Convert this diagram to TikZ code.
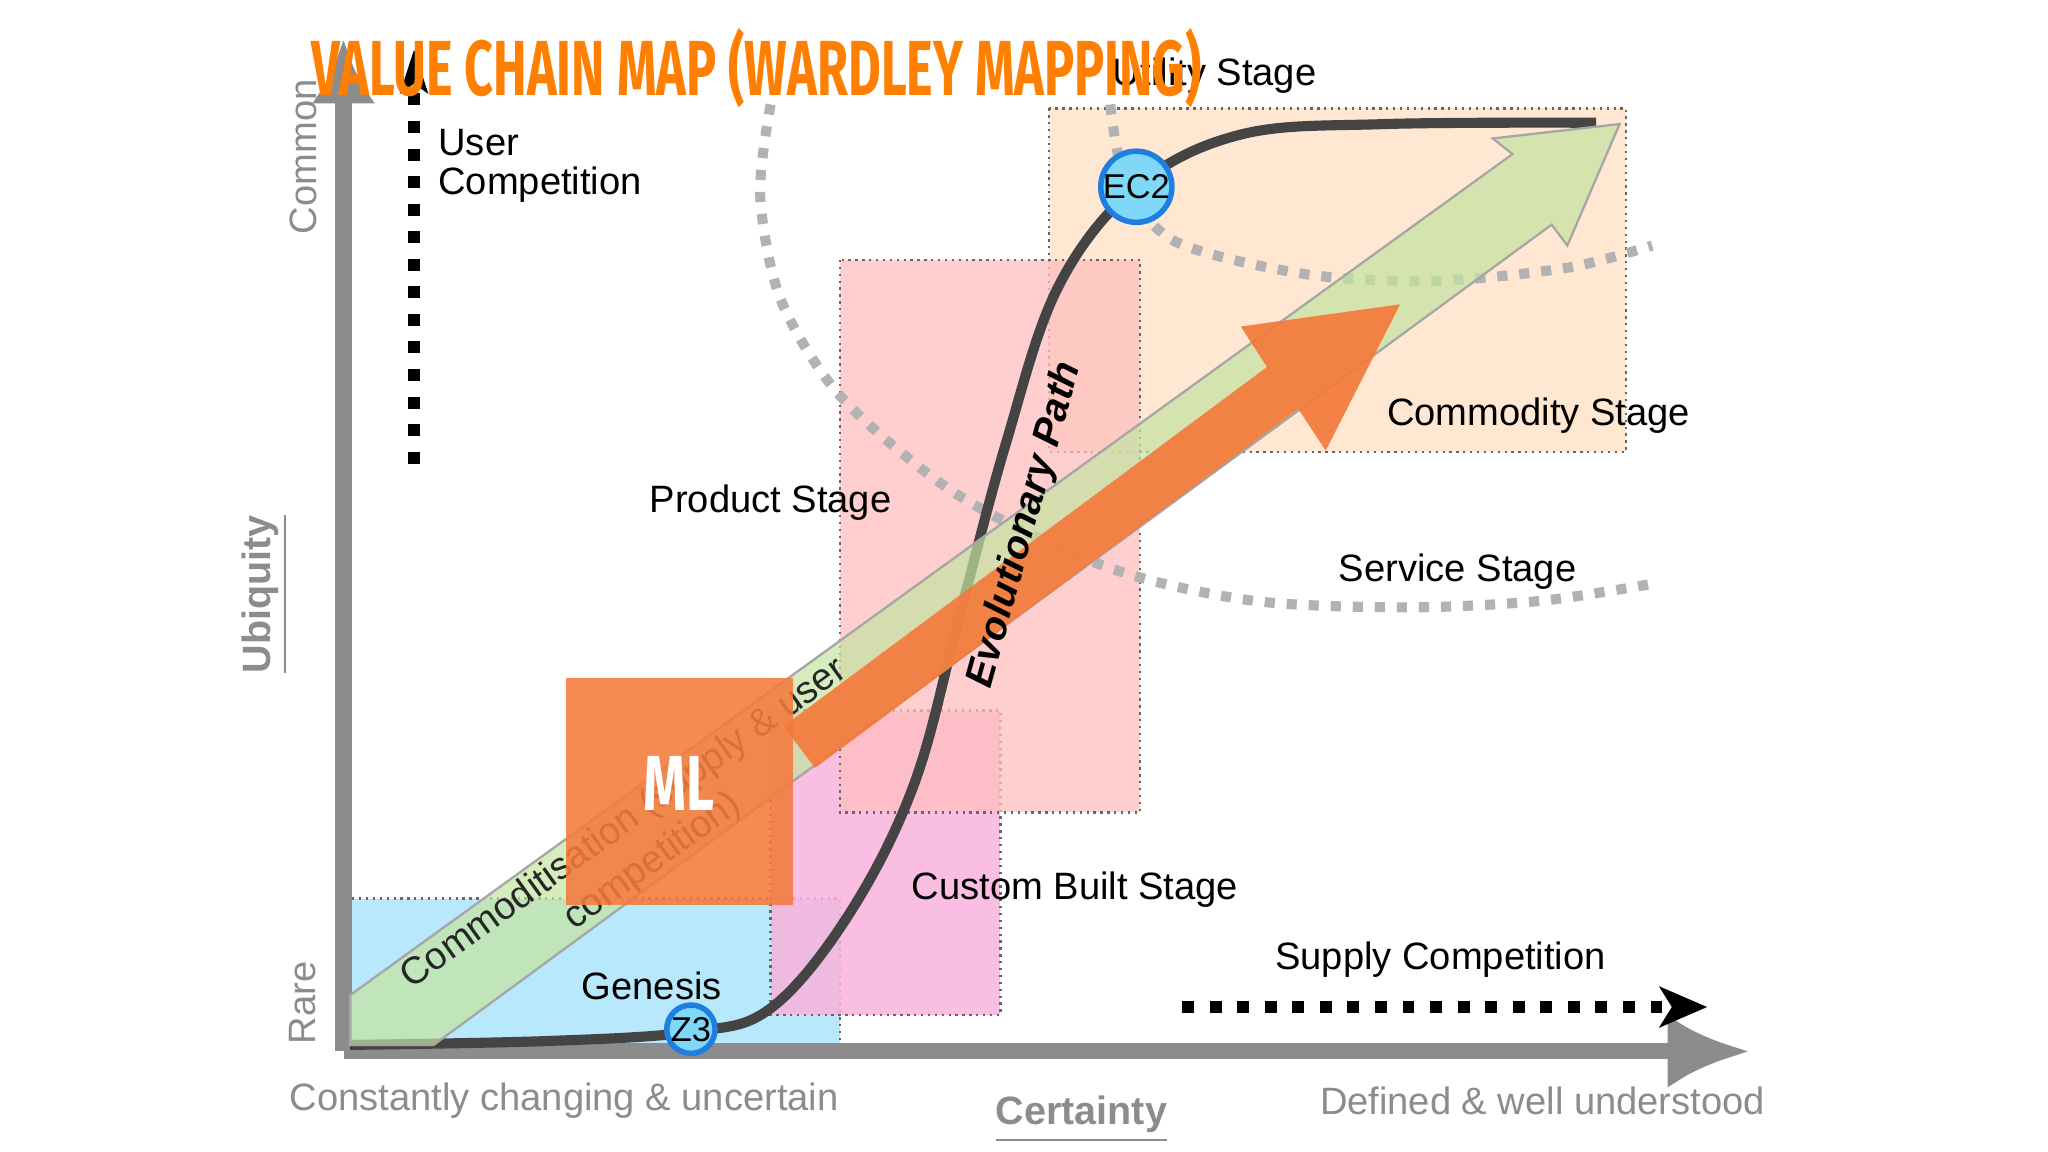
\documentclass[tikz,border=0pt]{standalone}
\usepackage{fontspec}
\setmainfont{Liberation Sans}
\newfontfamily\titlefont{Fira Sans}
\usetikzlibrary{arrows.meta}
\definecolor{orng}{HTML}{F47A3C}
\definecolor{ttl}{HTML}{FF7F00}
\definecolor{curvec}{HTML}{444444}
\definecolor{axisg}{HTML}{8C8C8C}
\definecolor{zfill}{HTML}{7FD8F8}
\definecolor{zline}{HTML}{1E7FE0}
\definecolor{grn}{HTML}{C4E4A0}
\tikzset{
  lbl/.style={font=\fontsize{8.3}{10}\selectfont, text=black, inner sep=0pt},
  axlbl/.style={font=\fontsize{8.3}{10}\selectfont, text=axisg, inner sep=0pt},
  stagebox/.style={draw=black!60, densely dotted, line width=0.5pt},
  arcdot/.style={draw=black!30, line width=2.2pt, dash pattern=on 2.2pt off 2.6pt},
  compet/.style={draw=black, line width=2.6pt, dash pattern=on 2.6pt off 3.4pt},
  pt/.style={circle, fill=zfill, draw=zline, line width=1.2pt, inner sep=0pt, font=\fontsize{7.5}{8}\selectfont},
}
\begin{document}
\begin{tikzpicture}[x=0.01cm,y=-0.01cm]
\useasboundingbox (0,0) rectangle (1568,882);
\fill[white] (0,0) rectangle (1568,882);
% stage boxes
\fill[orange!20, opacity=0.9] (803,83) rectangle (1245,346);
\draw[stagebox] (803,83) rectangle (1245,346);
\fill[cyan!28] (268,688) rectangle (643,800);
\draw[stagebox] (268,688) rectangle (643,800);
\fill[magenta!30, opacity=0.85] (590,544) rectangle (766,777);
\draw[stagebox] (590,544) rectangle (766,777);
\fill[red!25, opacity=0.75] (643,199) rectangle (873,622);
\draw[stagebox] (643,199) rectangle (873,622);
% dotted arcs
\draw[arcdot] plot[smooth] coordinates {(590,80) (582,150) (598,230) (645,305) (735,380) (850,435) (960,460) (1080,465) (1180,460) (1265,447)};
\draw[arcdot] plot[smooth] coordinates {(850,80) (862,140) (900,185) (1000,210) (1100,215) (1200,205) (1265,188)};
% axes
\draw[axisg, line width=3.5pt, -{Latex[length=14pt,width=14pt]}] (263,805) -- (263,30);
\draw[axisg, line width=3.5pt, -{Latex[length=18pt,width=16pt]}] (263,805) -- (1340,805);
% S curve
\draw[curvec, line width=2.2pt] plot[smooth, tension=0.6] coordinates {(268,800) (420,797) (529,790) (590,772) (650,700) (700,600) (735,470) (770,340) (810,220) (870,143) (950,103) (1060,95) (1222,94)};
% green arrow
\filldraw[fill=grn, draw=black!35, fill opacity=0.7, line width=0.5pt]
 (268,762) -- (1158,118) -- (1143,106) -- (1240,95) -- (1200,188) -- (1188,172) -- (332,800) -- (268,800) -- cycle;
\node[lbl, rotate=35.7, text=black!85] (cm1) at (478,631) {Commoditisation (supply \& user};
\node[lbl, rotate=35.7, text=black!85] (cm2) at (500,660) {competition)};
% orange arrow
\fill[orng, opacity=0.92] (600,556) -- (970,281) -- (950,250) -- (1072,233) -- (1015,345) -- (994,313) -- (624,588) -- cycle;
% ML box
\fill[orng, opacity=0.88] (433,519) rectangle (607,693);
\node[font=\titlefont\bfseries\fontsize{17}{18}\selectfont, text=white, xscale=0.7, transform shape] (ml) at (520,600) {ML};
% evolutionary path
\node[lbl, rotate=74.5, font=\bfseries\itshape\fontsize{8.6}{10}\selectfont] (ev) at (785,402) {Evolutionary Path};
% competition arrows
\draw[compet] (317,355) -- (317,62);
\fill[black] (317,38) -- (328,72) -- (317,64) -- (306,72) -- cycle;
\draw[compet] (905,771) -- (1280,771);
\fill[black] (1307,771) -- (1270,755) -- (1280,771) -- (1270,787) -- cycle;
\node[lbl, anchor=west] (uc1) at (335,109) {User};
\node[lbl, anchor=west] (uc2) at (335,141) {Competition};
\node[lbl] (sc) at (1103,735) {Supply Competition};
% stage labels
\node[lbl] (ut) at (930,58) {Utility Stage};
\node[lbl] (co) at (1178,318) {Commodity Stage};
\node[lbl] (se) at (1116,438) {Service Stage};
\node[lbl] (pr) at (590,385) {Product Stage};
\node[lbl] (cu) at (823,681) {Custom Built Stage};
\node[lbl] (ge) at (499,755) {Genesis};
% points
\node[pt, minimum size=0.37cm] (z3) at (529,788) {Z3};
\node[pt, minimum size=0.54cm] (ec2) at (870,143) {EC2};
% axis labels
\node[axlbl, rotate=90] (cmn) at (232,120) {Common};
\node[axlbl, rotate=90] (rare) at (232,768) {Rare};
\node[axlbl, rotate=90, font=\bfseries\fontsize{8.6}{10}\selectfont] (ubq) at (203,455) {\underline{Ubiquity}};
\node[axlbl] (cc) at (432,843) {Constantly changing \& uncertain};
\node[axlbl, font=\bfseries\fontsize{8.6}{10}\selectfont] (cert) at (828,857) {\underline{Certainty}};
\node[axlbl] (dw) at (1181,843) {Defined \& well understood};
% title
\node[anchor=west, text=ttl, font=\titlefont\bfseries\fontsize{17}{18}\selectfont, xscale=0.645, transform shape, inner sep=0pt] (title) at (238,52) {VALUE CHAIN MAP (WARDLEY MAPPING)};
\end{tikzpicture}
\end{document}
